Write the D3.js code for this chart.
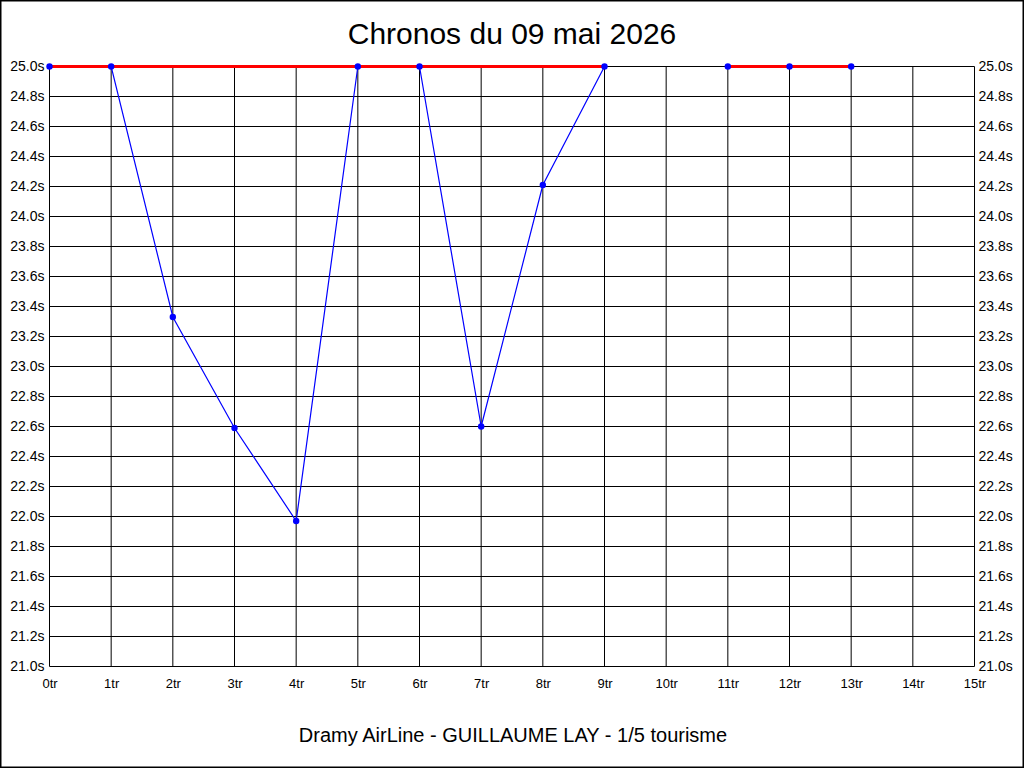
<!DOCTYPE html>
<html>
<head>
<meta charset="utf-8">
<script src="https://d3js.org/d3.v7.min.js"></script>
<style>
  body { margin: 0; background: #fff; }
  text { font-family: "Liberation Sans", Arial, sans-serif; }
</style>
</head>
<body>
<script>
// tours (0..15) and chrono en secondes; null = pas de tour
var tours = [0, 1, 2, 3, 4, 5, 6, 7, 8, 9, 10, 11, 12, 13]
var chronos = [25.0, 25.0, 23.33, 22.59, 21.97, 25.0, 25.0, 22.6, 24.21, 25.0, null, 25.0, 25.0, 25.0]
// segments de la ligne rouge (limite 25.0s)
var limite = 25.0
var segmentsLimite = [[0, 9], [11, 13]]
var xTicks = d3.range(0, 16)
var yTicks = d3.range(210, 251, 2).map(function(d) { return d / 10 })

var titre = "Chronos du 09 mai 2026"
var sousTitre = "Dramy AirLine - GUILLAUME LAY - 1/5 tourisme"

var width = 1024, height = 768

var svg = d3.select("body").append("svg")
  .attr('width', width)
  .attr('height', height)

svg.append("rect")
  .attr('x', 0.5).attr('y', 0.5)
  .attr('width', width - 1).attr('height', height - 1)
  .attr('fill', 'white')
  .attr('stroke', 'black')
  .attr('stroke-width', 2)

var x = d3.scaleLinear().domain([0, 15]).range([49.5, 974.5])
var y = d3.scaleLinear().domain([21, 25]).range([666.5, 66.5])

// grille
svg.append("g").selectAll("line.v")
  .data(xTicks)
  .enter().append("line")
  .attr('x1', function(d) { return x(d) })
  .attr('x2', function(d) { return x(d) })
  .attr('y1', y(25)).attr('y2', y(21))
  .attr('stroke', 'black')

svg.append("g").selectAll("line.h")
  .data(yTicks)
  .enter().append("line")
  .attr('x1', x(0)).attr('x2', x(15))
  .attr('y1', function(d) { return y(d) })
  .attr('y2', function(d) { return y(d) })
  .attr('stroke', 'black')

// axes
var fmtY = function(d) { return d3.format(".1f")(d) + "s" }

var axeG = d3.axisLeft(y).tickValues(yTicks).tickFormat(fmtY).tickSize(0).tickPadding(5)
var axeD = d3.axisRight(y).tickValues(yTicks).tickFormat(fmtY).tickSize(0).tickPadding(4)
var axeB = d3.axisBottom(x).tickValues(xTicks).tickFormat(function(d) { return d + "tr" }).tickSize(0).tickPadding(12)

;[[axeG, "translate(" + x(0) + ",0)", 14],
  [axeD, "translate(" + x(15) + ",0)", 14],
  [axeB, "translate(0," + y(21) + ")", 13]].forEach(function(a) {
  var g = svg.append("g").attr('transform', a[1]).call(a[0])
  g.select(".domain").remove()
  g.selectAll("text")
    .attr('font-size', a[2])
    .attr('fill', 'black')
    .style('font-family', '"Liberation Sans", Arial, sans-serif')
})

// chronos
var pts = tours.map(function(t, i) { return { t: t, v: chronos[i] } })

var line = d3.line()
  .defined(function(d) { return d.v !== null })
  .x(function(d) { return x(d.t) })
  .y(function(d) { return y(d.v) })

svg.append("path")
  .datum(pts)
  .attr('d', line)
  .attr('fill', 'none')
  .attr('stroke', 'blue')
  .attr('stroke-width', 1.2)

// ligne limite rouge (au-dessus de la courbe)
svg.append("g").selectAll("line")
  .data(segmentsLimite)
  .enter().append("line")
  .attr('x1', function(d) { return x(d[0]) })
  .attr('x2', function(d) { return x(d[1]) })
  .attr('y1', y(limite)).attr('y2', y(limite))
  .attr('stroke', 'red')
  .attr('stroke-width', 3)

svg.append("g").selectAll("circle")
  .data(pts.filter(function(d) { return d.v !== null }))
  .enter().append("circle")
  .attr('cx', function(d) { return x(d.t) })
  .attr('cy', function(d) { return y(d.v) })
  .attr('r', 3.2)
  .attr('fill', 'blue')

// titres
svg.append("text")
  .attr('x', 512).attr('y', 44)
  .attr('text-anchor', 'middle')
  .attr('font-size', 30)
  .text(titre)

svg.append("text")
  .attr('x', 513).attr('y', 742)
  .attr('text-anchor', 'middle')
  .attr('font-size', 20)
  .text(sousTitre)
</script>
</body>
</html>
